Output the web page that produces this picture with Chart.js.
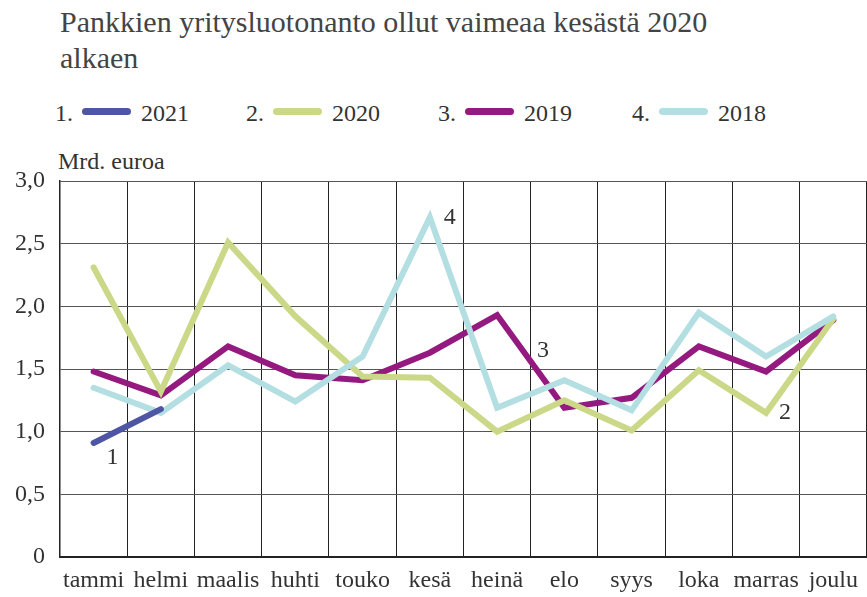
<!DOCTYPE html>
<html lang="fi">
<head>
<meta charset="utf-8">
<script src="https://cdn.jsdelivr.net/npm/chart.js@4/dist/chart.umd.min.js"></script>
<style>
  html, body { margin: 0; padding: 0; background: #fff; }
  body { width: 867px; height: 597px; position: relative; overflow: hidden;
         font-family: 'Liberation Serif', 'Times New Roman', serif; color: #333; }
  .title { position: absolute; left: 60px; top: 4px; font-size: 30px; line-height: 36px; color: #444; }
  .legend-item { position: absolute; top: 101px; font-size: 24px; line-height: 24px; white-space: nowrap; }
  .legend-item .swatch { position: absolute; top: 7px; width: 49px; height: 7px; border-radius: 4px; }
  .unit { position: absolute; left: 58px; top: 149px; font-size: 24px; line-height: 24px; }
  #wrap { position: absolute; left: 0; top: 0; width: 867px; height: 597px; }
</style>
</head>
<body>
<div class="title">Pankkien yritysluotonanto ollut vaimeaa kesästä 2020<br>alkaen</div>
<div id="legend"></div>
<div class="unit">Mrd. euroa</div>
<div id="wrap"><canvas id="chart"></canvas></div>

<script>
// months on the x axis
const months = ['tammi', 'helmi', 'maalis', 'huhti', 'touko', 'kesä',
                'heinä', 'elo', 'syys', 'loka', 'marras', 'joulu'];

// billions of euros
const y2021 = [0.91, 1.18];
const y2020 = [2.31, 1.32, 2.51, 1.92, 1.44, 1.43, 1.00, 1.25, 1.01, 1.49, 1.15, 1.90];
const y2019 = [1.48, 1.29, 1.68, 1.45, 1.41, 1.63, 1.93, 1.19, 1.27, 1.68, 1.48, 1.89];
const y2018 = [1.35, 1.15, 1.53, 1.24, 1.60, 2.71, 1.19, 1.41, 1.17, 1.95, 1.60, 1.92];

const yTicks = [0, 0.5, 1, 1.5, 2, 2.5, 3];

const series = [
  { num: '1.', label: '2021', data: y2021, color: '#4f55a5', order: 0 },
  { num: '2.', label: '2020', data: y2020, color: '#cad888', order: 2 },
  { num: '3.', label: '2019', data: y2019, color: '#951a80', order: 3 },
  { num: '4.', label: '2018', data: y2018, color: '#b4dfe2', order: 1 },
];

// number labels next to the lines: dataset, point, pixel offset
const notes = [
  { text: '1', ds: 0, pt: 0, dx: 19, dy: 15 },
  { text: '2', ds: 1, pt: 10, dx: 19, dy: 0 },
  { text: '3', ds: 2, pt: 6, dx: 46, dy: 36 },
  { text: '4', ds: 3, pt: 5, dx: 20, dy: 0 },
];

(function () {
  'use strict';

  // html legend
  const legendX = [55, 246, 438, 632];
  const legend = document.getElementById('legend');
  series.forEach(function (s, i) {
    const item = document.createElement('div');
    item.className = 'legend-item';
    item.style.left = legendX[i] + 'px';
    item.style.width = '140px';
    item.innerHTML = '<span>' + s.num + '</span>' +
      '<span class="swatch" style="left:27px;background:' + s.color + '"></span>' +
      '<span style="position:absolute;left:86px;top:0">' + s.label + '</span>';
    legend.appendChild(item);
  });

  const notesPlugin = {
    id: 'notes',
    afterDatasetsDraw: function (chart) {
      const ctx = chart.ctx;
      ctx.save();
      ctx.font = "24px 'Liberation Serif'";
      ctx.fillStyle = '#333';
      ctx.textAlign = 'center';
      ctx.textBaseline = 'middle';
      notes.forEach(function (n) {
        const p = chart.getDatasetMeta(n.ds).data[n.pt];
        if (p) ctx.fillText(n.text, p.x + n.dx, p.y + n.dy);
      });
      ctx.restore();
    },
  };

  new Chart(document.getElementById('chart'), {
    type: 'line',
    data: {
      labels: months,
      datasets: series.map(function (s) {
        return {
          label: s.label,
          data: s.data,
          borderColor: s.color,
          backgroundColor: s.color,
          borderWidth: 6,
          borderCapStyle: 'round',
          borderJoinStyle: 'miter',
          pointRadius: 0,
          tension: 0,
          fill: false,
          order: s.order,
        };
      }),
    },
    options: {
      responsive: true,
      maintainAspectRatio: false,
      animation: false,
      layout: { padding: { top: 181, right: 0, bottom: 0, left: 0 } },
      plugins: {
        legend: { display: false },
        title: { display: false },
        tooltip: { enabled: false },
      },
      scales: {
        x: {
          offset: true,
          grid: { offset: true, color: '#222', lineWidth: 1, drawTicks: false },
          border: { color: '#222', width: 2 },
          ticks: {
            color: '#333',
            padding: 9,
            maxRotation: 0,
            autoSkip: false,
            font: { family: 'Liberation Serif', size: 24 },
          },
          afterFit: function (scale) { scale.height = 40; },
        },
        y: {
          min: 0,
          max: 3,
          afterBuildTicks: function (scale) {
            scale.ticks = yTicks.map(function (v) { return { value: v }; });
          },
          grid: { color: '#555', lineWidth: 1, drawTicks: false },
          border: { color: '#222', width: 1.5 },
          ticks: {
            color: '#333',
            padding: 15,
            font: { family: 'Liberation Serif', size: 24 },
            callback: function (v) {
              return v === 0 ? '0' : v.toFixed(1).replace('.', ',');
            },
          },
          afterFit: function (scale) { scale.width = 60; },
        },
      },
    },
    plugins: [notesPlugin],
  });
})();
</script>
</body>
</html>
